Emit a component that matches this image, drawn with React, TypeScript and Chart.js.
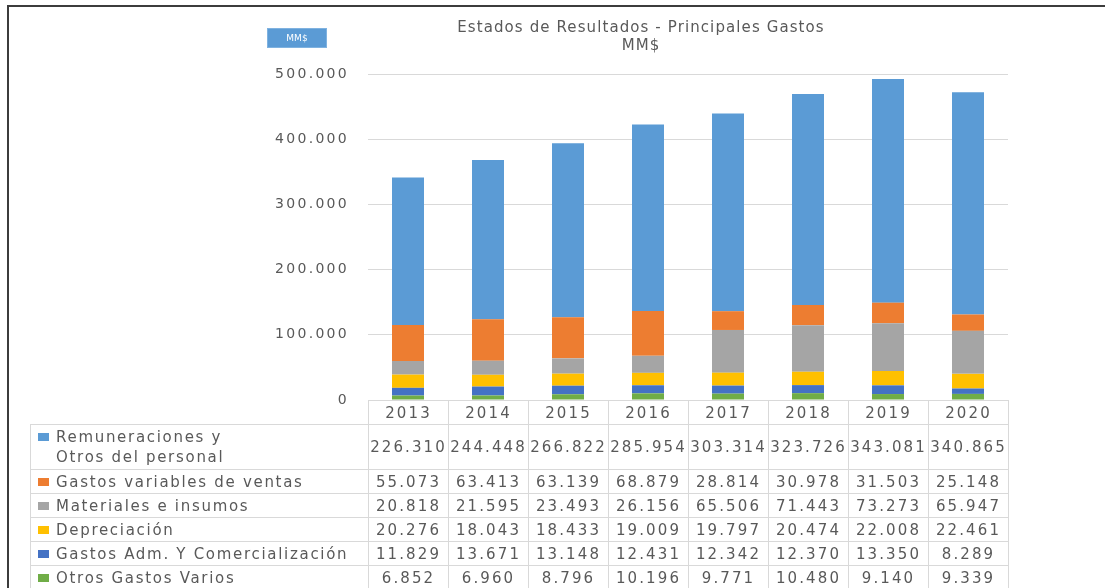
import React, { useEffect, useRef, useState } from 'react';
import { Chart, registerables } from 'chart.js';

Chart.register(...registerables);

// ---------- data ----------
const years = ['2013', '2014', '2015', '2016', '2017', '2018', '2019', '2020'];

const remuneraciones = [226310, 244448, 266822, 285954, 303314, 323726, 343081, 340865];
const gastosVariables = [55073, 63413, 63139, 68879, 28814, 30978, 31503, 25148];
const materiales = [20818, 21595, 23493, 26156, 65506, 71443, 73273, 65947];
const depreciacion = [20276, 18043, 18433, 19009, 19797, 20474, 22008, 22461];
const gastosAdm = [11829, 13671, 13148, 12431, 12342, 12370, 13350, 8289];
const otrosGastos = [6852, 6960, 8796, 10196, 9771, 10480, 9140, 9339];

const yTicks = [0, 100000, 200000, 300000, 400000, 500000];

const titleLines = ['Estados de Resultados - Principales Gastos', 'MM$'];
const unitLabel = 'MM$';

// table rows (top to bottom) ; stacking is bottom-up (reverse)
const series = [
  { name: ['Remuneraciones y', 'Otros del personal'], values: remuneraciones, color: '#5b9bd5' },
  { name: ['Gastos variables de ventas'], values: gastosVariables, color: '#ed7d31' },
  { name: ['Materiales e insumos'], values: materiales, color: '#a5a5a5' },
  { name: ['Depreciación'], values: depreciacion, color: '#ffc000' },
  { name: ['Gastos Adm. Y Comercialización'], values: gastosAdm, color: '#4472c4' },
  { name: ['Otros Gastos Varios'], values: otrosGastos, color: '#70ad47' },
];

// ---------- style ----------
const W = 1105;
const H = 588;
const FONT = '"DejaVu Sans", sans-serif';
const TEXT = '#595959';
const GRID = '#d9d9d9';

function fmt(n: number): string {
  return Math.round(n).toString().replace(/\B(?=(\d{3})+(?!\d))/g, '.');
}

export default function App() {
  const canvasRef = useRef<HTMLCanvasElement>(null);
  const [area, setArea] = useState<{ left: number; right: number; bottom: number } | null>(null);

  useEffect(() => {
    const canvas = canvasRef.current!;
    const spacing = {
      id: 'letterSpacing',
      beforeDraw(c: any) {
        c.ctx.letterSpacing = '2.3px';
      },
      afterDraw(c: any) {
        c.ctx.letterSpacing = '0px';
      },
    };
    const chart = new Chart(canvas, {
      type: 'bar',
      data: {
        labels: years,
        datasets: series
          .slice()
          .reverse()
          .map((s) => ({
            label: s.name.join(' '),
            data: s.values,
            backgroundColor: s.color,
            borderWidth: 0,
          })),
      },
      options: {
        responsive: false,
        animation: false,
        layout: { padding: { left: 268, right: 97, top: 74, bottom: 188 } },
        datasets: { bar: { categoryPercentage: 1, barPercentage: 0.4 } },
        plugins: {
          legend: { display: false },
          tooltip: { enabled: false },
          title: { display: false },
        },
        scales: {
          x: { stacked: true, display: false },
          y: {
            stacked: true,
            min: yTicks[0],
            max: yTicks[yTicks.length - 1],
            afterBuildTicks: (scale: any) => {
              scale.ticks = yTicks.map((v) => ({ value: v }));
            },
            afterFit: (scale: any) => {
              scale.width = 100;
            },
            ticks: {
              padding: 19,
              color: TEXT,
              font: { family: FONT, size: 14 },
              callback: (v: any) => fmt(Number(v)),
            },
            grid: { color: GRID, drawTicks: false, lineWidth: 1 },
            border: { display: false },
          },
        },
      },
      plugins: [spacing],
    } as any);
    setArea({ left: chart.chartArea.left, right: chart.chartArea.right, bottom: chart.chartArea.bottom });
    return () => chart.destroy();
  }, []);

  const colW = area ? (area.right - area.left) / years.length : 80;
  const labelLeft = 30;
  const tableLeft = labelLeft;
  const labelW = area ? area.left - labelLeft : 338;

  const cellBorder = `1px solid ${GRID}`;
  const textStyle: React.CSSProperties = {
    fontFamily: FONT,
    fontSize: 15,
    color: TEXT,
    letterSpacing: '2.1px',
    whiteSpace: 'nowrap',
  };

  return (
    <div style={{ position: 'absolute', left: 0, top: 0, width: W, height: H, background: '#fff', overflow: 'hidden' }}>
      <canvas ref={canvasRef} width={W} height={H} style={{ position: 'absolute', left: 0, top: 0, width: W, height: H }} />

      {/* frame */}
      <div
        style={{
          position: 'absolute',
          left: 7,
          top: 5,
          width: W,
          height: H,
          borderLeft: '2px solid #3c3c3c',
          borderTop: '2px solid #3c3c3c',
          boxSizing: 'border-box',
        }}
      />

      {/* unit box */}
      <div
        style={{
          position: 'absolute',
          left: 267,
          top: 28,
          width: 60,
          height: 20,
          background: '#5b9bd5',
          border: '1px solid #7fb2e0',
          boxSizing: 'border-box',
          color: '#fff',
          fontFamily: FONT,
          fontSize: 9,
          lineHeight: '18px',
          textAlign: 'center',
        }}
      >
        {unitLabel}
      </div>

      {/* title */}
      <div
        style={{
          position: 'absolute',
          left: 641 - 250,
          top: 18,
          width: 500,
          textAlign: 'center',
          fontFamily: FONT,
          fontSize: 15,
          lineHeight: '18px',
          color: TEXT,
          letterSpacing: '1.1px',
        }}
      >
        {titleLines.map((t, i) => (
          <div key={i}>{t}</div>
        ))}
      </div>

      {/* data table */}
      {area && (
        <table
          style={{
            position: 'absolute',
            left: tableLeft,
            top: area.bottom,
            borderCollapse: 'collapse',
            tableLayout: 'fixed',
            width: labelW + colW * years.length,
          }}
        >
          <colgroup>
            <col style={{ width: labelW }} />
            {years.map((y) => (
              <col key={y} style={{ width: colW }} />
            ))}
          </colgroup>
          <tbody>
            <tr style={{ height: 24 }}>
              <td style={{ border: 'none', padding: 0 }} />
              {years.map((y) => (
                <td key={y} style={{ ...textStyle, border: cellBorder, padding: 0, textAlign: 'center' }}>
                  {y}
                </td>
              ))}
            </tr>
            {series.map((s, ri) => (
              <tr key={ri} style={{ height: s.name.length > 1 ? 45 : 24 }}>
                <td
                  style={{
                    ...textStyle,
                    letterSpacing: '1.7px',
                    border: cellBorder,
                    padding: '0 0 0 7px',
                    verticalAlign: 'middle',
                  }}
                >
                  <div style={{ display: 'flex', alignItems: 'flex-start' }}>
                    <span
                      style={{
                        display: 'inline-block',
                        width: 11,
                        height: 8,
                        background: s.color,
                        marginTop: 6,
                        marginRight: 7,
                        flex: 'none',
                      }}
                    />
                    <div style={{ lineHeight: '20px' }}>
                      {s.name.map((n, k) => (
                        <div key={k}>{n}</div>
                      ))}
                    </div>
                  </div>
                </td>
                {s.values.map((v, ci) => (
                  <td
                    key={ci}
                    style={{ ...textStyle, border: cellBorder, padding: 0, textAlign: 'center', overflow: 'visible' }}
                  >
                    {fmt(v)}
                  </td>
                ))}
              </tr>
            ))}
          </tbody>
        </table>
      )}
    </div>
  );
}
